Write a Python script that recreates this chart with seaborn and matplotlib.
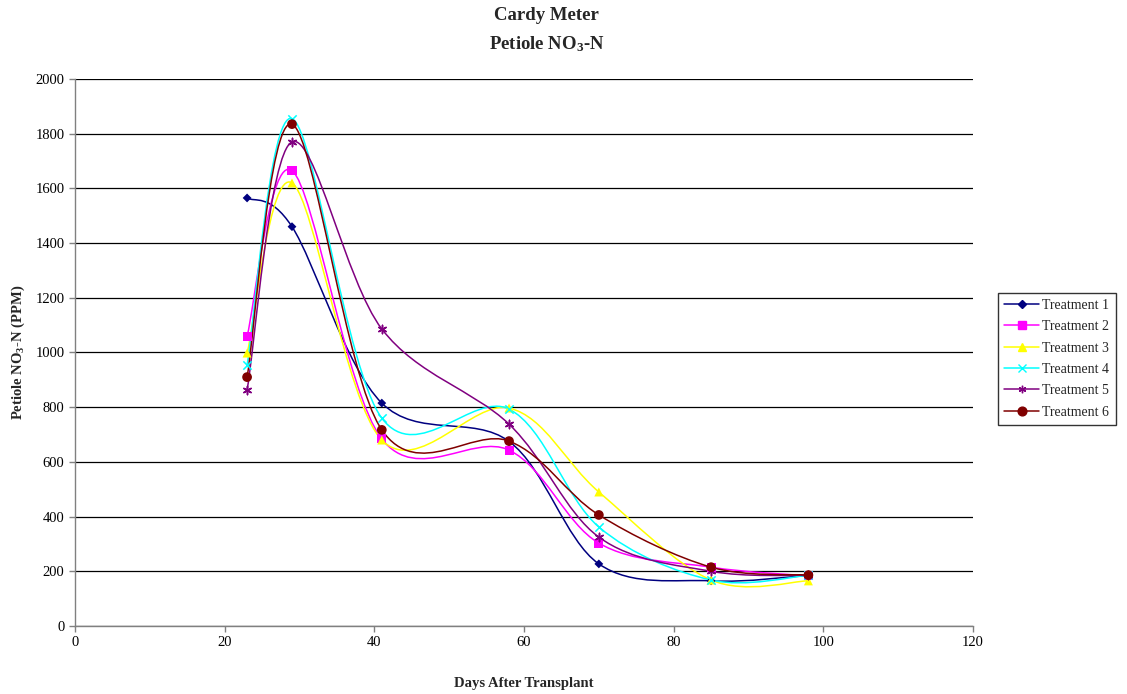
import numpy as np
import pandas as pd
import matplotlib
matplotlib.use('Agg')
import matplotlib.pyplot as plt
from matplotlib.path import Path
from matplotlib.patches import PathPatch
from matplotlib.lines import Line2D
import seaborn as sns

# Days after transplant and petiole NO3-N readings (PPM)
days = [23, 29, 41, 58, 70, 85, 98]
treatment_1 = [1565, 1460, 815, 675, 227, 165, 185]
treatment_2 = [1060, 1665, 684, 643, 303, 215, 183]
treatment_3 = [998, 1620, 680, 797, 490, 168, 165]
treatment_4 = [954, 1855, 760, 793, 362, 168, 185]
treatment_5 = [863, 1770, 1086, 738, 325, 200, 185]
treatment_6 = [910, 1835, 717, 676, 406, 215, 186]

names = ['Treatment 1', 'Treatment 2', 'Treatment 3',
         'Treatment 4', 'Treatment 5', 'Treatment 6']
series = [treatment_1, treatment_2, treatment_3,
          treatment_4, treatment_5, treatment_6]

colors = {'Treatment 1': '#000080', 'Treatment 2': '#FF00FF', 'Treatment 3': '#FFFF00',
          'Treatment 4': '#00FFFF', 'Treatment 5': '#800080', 'Treatment 6': '#800000'}
markers = {'Treatment 1': 'D', 'Treatment 2': 's', 'Treatment 3': '^',
           'Treatment 4': 'x', 'Treatment 5': (6, 2, 0), 'Treatment 6': 'o'}
sizes = {'Treatment 1': 4.5, 'Treatment 2': 6.5, 'Treatment 3': 6.5,
         'Treatment 4': 6, 'Treatment 5': 6, 'Treatment 6': 7}

df = pd.DataFrame({
    'day': days * len(names),
    'ppm': [v for s in series for v in s],
    'treatment': [n for n in names for _ in days],
})

sns.set_style('white')
plt.rcParams['font.family'] = ['Liberation Serif', 'DejaVu Serif']
plt.rcParams['mathtext.default'] = 'regular'

fig = plt.figure(figsize=(11.27, 6.94), dpi=100)
ax = fig.add_axes([0.0665, 0.098, 0.7969, 0.7882])


def smooth_path(xs, ys):
    # Excel-style smoothed line: cubic Bezier through every point
    pts = np.column_stack([xs, ys]).astype(float)
    n = len(pts)
    verts = [pts[0]]
    codes = [Path.MOVETO]
    for i in range(n - 1):
        p0 = pts[i - 1] if i > 0 else pts[i]
        p1 = pts[i]
        p2 = pts[i + 1]
        p3 = pts[i + 2] if i + 2 < n else pts[i + 1]
        c1 = p1 + (p2 - p0) / 6.0
        c2 = p2 - (p3 - p1) / 6.0
        verts += [c1, c2, p2]
        codes += [Path.CURVE4] * 3
    return Path(verts, codes)


for name, vals in zip(names, series):
    ax.add_patch(PathPatch(smooth_path(days, vals), facecolor='none',
                           edgecolor=colors[name], lw=1.1, zorder=2))

for name in names:
    sub = df[df['treatment'] == name]
    m = markers[name]
    filled = m not in ('x', (6, 2, 0))
    sns.scatterplot(data=sub, x='day', y='ppm', color=colors[name], marker=m,
                    s=sizes[name] ** 2, linewidth=0 if filled else 1.1,
                    edgecolor=colors[name] if not filled else 'none',
                    legend=False, ax=ax, zorder=3)

ax.set_xlim(0, 120)
ax.set_ylim(0, 2000)
ax.set_xticks(range(0, 121, 20))
ax.set_yticks(range(0, 2001, 200))
ax.yaxis.grid(True, color='black', lw=0.9)
ax.set_axisbelow(True)
for side in ['top', 'right']:
    ax.spines[side].set_visible(False)
for side in ['left', 'bottom']:
    ax.spines[side].set_color('#808080')
    ax.spines[side].set_linewidth(1)
ax.tick_params(axis='both', direction='out', length=4, width=1, color='#808080',
               labelsize=10.5, labelcolor='black', bottom=True, left=True)

ax.set_xlabel('Days After Transplant', fontsize=10.5, fontweight='bold', labelpad=20)
ax.set_ylabel('Petiole NO$_3$-N (PPM)', fontsize=10.5, fontweight='bold', labelpad=6)

fig.text(0.485, 0.977, 'Cardy Meter', ha='center', va='center',
         fontsize=13.5, fontweight='bold')
fig.text(0.485, 0.937, 'Petiole NO$_3$-N', ha='center', va='center',
         fontsize=13.5, fontweight='bold')

handles = [Line2D([0], [0], color=colors[n], marker=markers[n], lw=1.1,
                  markersize=sizes[n] * 0.9, markeredgewidth=1.0,
                  markerfacecolor=colors[n], markeredgecolor=colors[n])
           for n in names]
leg = fig.legend(handles, names, loc='center left',
                 bbox_to_anchor=(0.8855, 0.483), frameon=True, fancybox=False,
                 fontsize=10, handlelength=2.5, borderpad=0.45, labelspacing=0.6,
                 handletextpad=0.25, borderaxespad=0)
leg.get_frame().set_edgecolor('black')
leg.get_frame().set_linewidth(1)

fig.savefig('out.png', dpi=100)
